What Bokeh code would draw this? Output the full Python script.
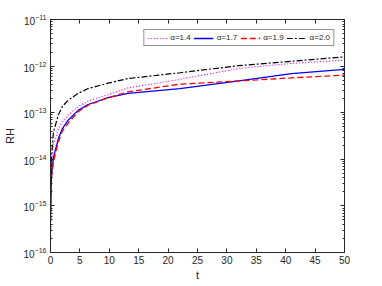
from bokeh.plotting import figure
from bokeh.models import LogAxis, LinearAxis, Legend, LegendItem, CustomJSTickFormatter, FixedTicker, LogTicker
from bokeh.embed import file_html
from bokeh.resources import INLINE

t = [0, 0.05, 0.1, 0.2, 0.5, 1.35, 2.0, 3.0, 4.7, 6.4, 9.8, 13.2, 22, 32, 41, 50]
rh_14 = [6e-16, 1.8e-15, 3.5e-15, 8e-15, 2.2e-14, 4.5e-14, 6.5e-14, 8.9e-14, 1.35e-13, 1.78e-13, 2.45e-13, 3.4e-13, 5.2e-13, 8.9e-13, 1.14e-12, 1.34e-12]
rh_17 = [4.9e-16, 1.3e-15, 2.5e-15, 5e-15, 1.1e-14, 2.8e-14, 4.5e-14, 6.9e-14, 1.12e-13, 1.5e-13, 2.1e-13, 2.6e-13, 3.3e-13, 4.8e-13, 6.9e-13, 8.5e-13]
rh_19 = [1.8e-16, 1.0e-15, 2.2e-15, 4.5e-15, 9e-15, 2.4e-14, 4.0e-14, 6.0e-14, 1.05e-13, 1.45e-13, 2.1e-13, 2.8e-13, 4.1e-13, 4.8e-13, 5.6e-13, 6.4e-13]
rh_20 = [8e-16, 2.5e-15, 5e-15, 1.2e-14, 3.9e-14, 9e-14, 1.35e-13, 1.86e-13, 2.6e-13, 3.3e-13, 4.3e-13, 5.4e-13, 7.2e-13, 1.02e-12, 1.27e-12, 1.58e-12]
labels = ["α=1.4", "α=1.7", "α=1.9", "α=2.0"]
x_ticks = [0, 5, 10, 15, 20, 25, 30, 35, 40, 45, 50]

FONT = "Liberation Sans"
TXT = "#262626"

p = figure(width=366, height=284, x_range=(0, 50), y_range=(1e-16, 1e-11),
           y_axis_type="log", output_backend="svg", toolbar_location=None,
           min_border_left=42, min_border_right=22, min_border_top=19, min_border_bottom=32)
p.grid.visible = False
p.outline_line_color = TXT
p.background_fill_color = "white"

r1 = p.line(t, rh_14, line_color="#FF00FF", line_width=1.2, line_dash="1 2")
r2 = p.line(t, rh_17, line_color="#0000FF", line_width=1.3)
r3 = p.line(t, rh_19, line_color="#FF0000", line_width=1.3, line_dash="6 3")
r4 = p.line(t, rh_20, line_color="#000000", line_width=1.2, line_dash="6 2 2 2")

def style(ax, show_labels=True):
    ax.axis_line_color = TXT
    ax.major_tick_line_color = TXT
    ax.minor_tick_line_color = TXT
    ax.major_tick_in = 4
    ax.major_tick_out = 0
    ax.minor_tick_in = 2
    ax.minor_tick_out = 0
    ax.major_label_text_font = FONT
    ax.major_label_text_color = TXT
    ax.major_label_text_font_size = "10px"
    ax.axis_label_text_font = FONT
    ax.axis_label_text_color = TXT
    ax.axis_label_text_font_size = "11px"
    ax.axis_label_text_font_style = "normal"
    if not show_labels:
        ax.major_label_text_font_size = "0px"
        ax.major_label_standoff = 0

xa = p.xaxis[0]
style(xa)
xa.ticker = FixedTicker(ticks=x_ticks)
xa.minor_tick_in = 0
xa.axis_label = "t"
xa.major_label_standoff = 3
xa.axis_label_standoff = 2

ya = p.yaxis[0]
style(ya)
ya.ticker = LogTicker(num_minor_ticks=10)
ya.axis_label = "RH"
ya.major_label_standoff = 4
ya.axis_label_standoff = 5

top = LinearAxis(ticker=FixedTicker(ticks=x_ticks))
style(top, False)
top.minor_tick_in = 0
top.major_label_overrides = {v: "" for v in x_ticks}
p.add_layout(top, "above")

right = LogAxis(ticker=LogTicker(num_minor_ticks=10))
style(right, False)
right.formatter = CustomJSTickFormatter(code="return ''")
p.add_layout(right, "right")

legend = Legend(items=[LegendItem(label=labels[0], renderers=[r1]),
                       LegendItem(label=labels[1], renderers=[r2]),
                       LegendItem(label=labels[2], renderers=[r3]),
                       LegendItem(label=labels[3], renderers=[r4])],
                orientation="horizontal", location="top_right")
legend.margin = 10
legend.padding = 3
legend.spacing = 3
legend.glyph_width = 20
legend.glyph_height = 8
legend.label_standoff = 3
legend.label_text_font = FONT
legend.label_text_font_size = "8px"
legend.label_text_color = TXT
legend.label_height = 8
legend.border_line_color = TXT
legend.border_line_width = 1
legend.background_fill_alpha = 1
p.add_layout(legend, "center")

open("out.html", "w").write(file_html(p, INLINE))
